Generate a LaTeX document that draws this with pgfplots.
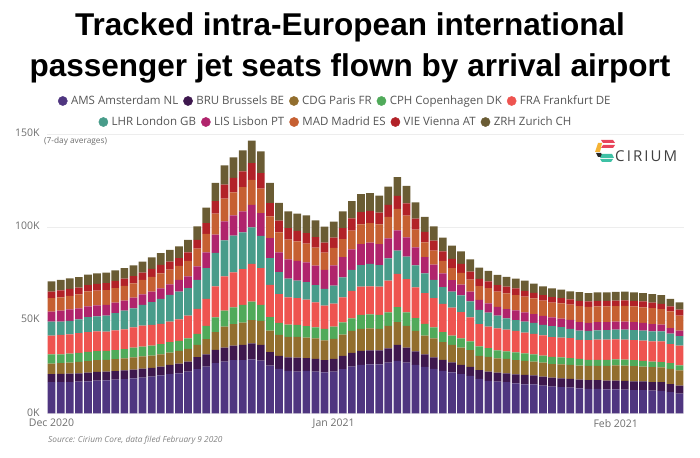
\documentclass[border=0pt]{standalone}
\usepackage{pgfplots}
\usepackage{pgfplotstable}
\pgfplotsset{compat=1.18}
\usepackage{fontspec}
\setmainfont{Open Sans}
\newfontfamily\titlefont{Liberation Sans}
\definecolor{cAMS}{RGB}{79,54,128}
\definecolor{cBRU}{RGB}{62,24,78}
\definecolor{cCDG}{RGB}{146,110,46}
\definecolor{cCPH}{RGB}{80,170,90}
\definecolor{cFRA}{RGB}{238,84,80}
\definecolor{cLHR}{RGB}{72,156,138}
\definecolor{cLIS}{RGB}{176,36,108}
\definecolor{cMAD}{RGB}{198,96,50}
\definecolor{cVIE}{RGB}{178,34,40}
\definecolor{cZRH}{RGB}{106,92,52}
\definecolor{tickgray}{RGB}{110,110,110}
\definecolor{leggray}{RGB}{85,85,85}
\definecolor{logored}{RGB}{232,68,90}
\definecolor{logoyel}{RGB}{245,179,53}
\definecolor{logoteal}{RGB}{62,193,165}
\pgfplotstableread{
x AMS BRU CDG CPH FRA LHR LIS MAD VIE ZRH
0 16.7 4.3 5.7 5.0 10.0 7.5 5.4 7.2 3.6 5.4
1 16.7 4.5 5.7 4.8 10.4 7.2 5.9 7.0 3.8 5.6
2 16.8 4.5 5.9 4.8 10.4 7.3 6.1 7.2 3.8 5.6
3 17.0 4.5 6.1 4.8 10.6 7.5 5.9 7.5 3.6 5.6
4 17.2 4.7 6.1 5.0 10.6 8.1 5.7 8.1 3.4 5.6
5 17.6 4.7 6.3 4.8 10.6 8.1 5.9 7.9 3.6 5.6
6 17.7 4.7 6.3 4.8 10.4 8.6 5.7 7.9 3.8 5.6
7 18.1 4.5 6.5 4.8 10.6 9.3 5.7 7.7 3.9 5.6
8 18.3 4.7 6.5 5.0 10.6 10.0 5.4 7.9 3.9 5.6
9 18.8 4.7 6.6 5.2 10.9 10.2 5.7 7.7 3.9 5.7
10 19.2 4.8 6.6 5.2 11.3 11.1 5.7 7.7 3.9 5.9
11 19.7 4.7 6.6 5.4 11.1 12.2 5.7 7.9 4.3 6.1
12 20.3 4.8 6.6 5.4 10.9 13.4 5.7 8.1 4.5 6.3
13 21.0 5.0 6.6 5.6 11.1 14.3 5.7 7.9 4.3 6.3
14 21.5 5.2 6.8 5.4 11.6 14.8 6.4 7.5 4.1 6.3
15 22.4 5.4 6.8 5.7 12.2 14.7 6.3 8.4 4.5 6.8
16 23.7 6.5 6.6 5.9 13.4 15.6 7.2 9.5 4.8 7.2
17 25.1 6.6 8.1 7.2 14.5 16.5 8.4 10.0 5.7 8.4
18 26.9 7.2 9.5 7.9 16.7 17.9 9.9 11.3 6.6 9.9
19 27.8 7.5 11.3 8.6 18.3 19.4 10.2 12.2 7.5 10.4
20 28.5 7.9 11.5 9.0 18.8 19.7 10.9 12.4 7.7 11.1
21 28.5 8.2 12.0 9.5 19.2 19.7 11.3 13.1 8.4 11.3
22 29.0 8.6 12.5 9.9 20.3 19.5 12.2 13.4 9.0 12.0
23 28.3 8.4 12.9 8.6 19.7 17.4 12.2 13.1 8.4 11.6
24 25.6 7.2 11.6 7.2 17.4 14.3 10.8 11.6 7.2 10.8
25 23.8 7.0 11.3 6.5 15.4 11.8 10.6 10.8 6.3 9.5
26 22.8 7.2 11.1 6.5 14.7 10.0 10.4 10.6 6.1 9.1
27 22.4 7.5 11.1 6.5 14.3 9.5 10.6 10.4 5.7 9.3
28 22.8 6.8 11.1 6.1 14.2 9.5 10.6 10.0 5.7 9.5
29 22.4 6.8 11.1 5.9 13.4 9.3 10.4 9.7 5.6 9.0
30 22.0 6.6 10.6 6.1 12.5 9.0 10.2 9.3 5.4 8.6
31 22.4 6.8 10.8 6.5 12.4 9.7 10.8 9.5 5.4 8.6
32 23.7 7.2 11.3 6.6 13.4 10.8 10.9 9.7 5.9 9.0
33 25.1 7.3 11.8 6.8 14.7 11.3 11.1 10.0 6.6 9.3
34 26.0 7.5 11.8 7.5 15.2 11.6 11.3 10.6 6.5 9.7
35 26.3 7.5 11.8 7.5 15.1 12.0 11.5 10.4 6.6 9.5
36 26.3 7.5 11.5 7.5 15.2 11.6 11.3 10.6 6.3 9.1
37 27.2 7.7 12.0 7.3 17.0 12.0 10.8 11.5 6.5 9.7
38 28.1 8.6 12.2 8.1 17.9 12.5 10.8 11.6 7.0 10.0
39 27.2 8.1 11.6 7.3 17.9 12.0 10.4 11.6 6.6 9.5
40 26.0 7.2 11.1 6.8 16.5 11.8 9.7 9.5 5.9 8.8
41 24.9 6.8 10.0 6.3 16.5 10.6 8.8 7.9 5.6 8.1
42 23.8 6.3 10.2 5.9 15.6 9.9 8.1 7.5 5.4 7.7
43 22.8 5.9 9.5 5.4 15.1 9.1 7.3 6.8 5.0 7.5
44 22.0 5.4 9.3 5.0 15.1 8.6 6.1 6.4 5.0 7.2
45 21.0 5.0 9.3 5.0 14.0 9.0 5.8 6.3 4.8 6.8
46 20.1 4.8 9.0 4.7 12.9 8.6 5.2 6.5 4.3 6.5
47 18.5 4.7 7.7 5.0 12.0 7.7 5.3 7.4 3.9 6.1
48 17.4 5.0 7.9 4.7 11.6 7.5 5.0 8.1 3.6 5.7
49 17.0 4.8 7.7 4.3 11.8 6.8 4.8 8.1 3.6 5.4
50 16.7 4.8 7.7 4.1 11.6 6.1 5.0 8.4 3.6 5.2
51 16.1 4.8 7.7 4.1 11.5 5.9 5.2 8.2 3.6 5.2
52 15.6 5.0 7.5 4.1 11.1 5.9 5.0 8.4 3.2 5.4
53 15.6 4.7 7.5 3.9 10.9 5.9 4.8 8.4 3.0 5.0
54 14.9 4.8 7.5 3.8 10.8 5.7 4.8 8.2 3.0 4.7
55 14.3 4.8 7.3 3.9 10.6 5.9 4.7 7.9 3.0 4.7
56 14.0 4.8 7.5 3.8 10.6 5.6 4.5 8.2 2.9 4.5
57 13.8 4.7 7.5 3.6 10.8 5.0 4.8 8.1 2.9 4.3
58 13.4 4.7 7.5 3.6 10.2 5.0 4.5 8.6 2.9 4.7
59 13.1 4.7 7.7 3.2 10.6 5.0 4.3 8.6 2.9 4.5
60 13.1 4.7 7.7 3.2 10.8 5.0 4.5 8.4 3.0 4.5
61 12.9 4.7 7.9 3.2 10.8 5.2 4.3 8.4 3.0 4.5
62 12.9 4.7 8.1 3.2 10.8 5.2 4.3 8.4 2.9 4.7
63 12.7 4.7 8.2 3.2 10.8 5.4 4.3 8.4 3.0 4.7
64 12.5 4.7 8.1 3.2 10.8 5.4 4.3 8.4 3.0 4.5
65 12.4 4.7 7.9 3.2 10.8 5.4 4.1 8.4 3.2 4.5
66 12.2 4.5 8.1 3.0 10.8 5.4 3.9 8.6 3.0 4.5
67 12.0 4.7 7.9 2.9 11.1 5.4 3.6 8.4 2.7 4.7
68 11.4 4.3 8.1 3.2 10.2 5.6 2.9 9.0 2.7 4.1
69 10.6 4.3 8.2 2.7 10.6 5.0 3.0 8.1 3.2 3.9
}\data
\begin{document}
\begin{tikzpicture}[x=1pt,y=1pt]
\path[use as bounding box] (0,0) rectangle (700,457);
% title
\node[anchor=base, inner sep=0] at (350,421) {\titlefont\bfseries\fontsize{31.5}{36}\selectfont Tracked intra-European international};
\node[anchor=base, inner sep=0] at (350,380) {\titlefont\bfseries\fontsize{31.5}{36}\selectfont passenger jet seats flown by arrival airport};
\begin{axis}[
  at={(47pt,43.7pt)}, anchor=south west, scale only axis,
  width=637pt, height=279.3pt,
  xmin=-0.5, xmax=69.5, ymin=0, ymax=150,
  ybar stacked, bar width=7.7pt,
  axis line style={draw=none}, major tick length=0pt,
  ytick={0,50,100,150}, yticklabels={0K,50K,100K,150K},
  xtick={0,31,62}, xticklabels={Dec 2020,Jan 2021,Feb 2021},
  ymajorgrids, grid style={gray!14, line width=0.6pt},
  tick label style={font=\fontsize{10.5}{12}\selectfont, text=tickgray},
  yticklabel style={xshift=-4pt, yshift=1pt},
  xticklabel style={yshift=-2.5pt},
  clip=false,
]
\addplot[fill=cAMS, draw=none] table[x=x, y=AMS] {\data};
\addplot[fill=cBRU, draw=none] table[x=x, y=BRU] {\data};
\addplot[fill=cCDG, draw=none] table[x=x, y=CDG] {\data};
\addplot[fill=cCPH, draw=none] table[x=x, y=CPH] {\data};
\addplot[fill=cFRA, draw=none] table[x=x, y=FRA] {\data};
\addplot[fill=cLHR, draw=none] table[x=x, y=LHR] {\data};
\addplot[fill=cLIS, draw=none] table[x=x, y=LIS] {\data};
\addplot[fill=cMAD, draw=none] table[x=x, y=MAD] {\data};
\addplot[fill=cVIE, draw=none] table[x=x, y=VIE] {\data};
\addplot[fill=cZRH, draw=none] table[x=x, y=ZRH] {\data};
\end{axis}
% legend row 1
\begin{axis}[at={(0pt,0pt)}, anchor=south west, scale only axis, width=700pt, height=457pt,
  hide axis, xmin=0, xmax=1, ymin=0, ymax=1,
  legend image code/.code={\fill[#1] (0pt,0pt) circle (4.6pt);},
  legend style={at={(0.479,0.779)}, anchor=center, draw=none, fill=none,
    font=\fontsize{11.5}{13}\selectfont, text=leggray, inner sep=0pt,
    /tikz/every even column/.append style={column sep=3pt},
    /tikz/every odd column/.append style={column sep=1.5pt}},
  legend columns=5]
\addlegendimage{cAMS}\addlegendentry{AMS Amsterdam NL}
\addlegendimage{cBRU}\addlegendentry{BRU Brussels BE}
\addlegendimage{cCDG}\addlegendentry{CDG Paris FR}
\addlegendimage{cCPH}\addlegendentry{CPH Copenhagen DK}
\addlegendimage{cFRA}\addlegendentry{FRA Frankfurt DE}
\end{axis}
% legend row 2
\begin{axis}[at={(0pt,0pt)}, anchor=south west, scale only axis, width=700pt, height=457pt,
  hide axis, xmin=0, xmax=1, ymin=0, ymax=1,
  legend image code/.code={\fill[#1] (0pt,0pt) circle (4.6pt);},
  legend style={at={(0.480,0.733)}, anchor=center, draw=none, fill=none,
    font=\fontsize{11.5}{13}\selectfont, text=leggray, inner sep=0pt,
    /tikz/every even column/.append style={column sep=3pt},
    /tikz/every odd column/.append style={column sep=1.5pt}},
  legend columns=5]
\addlegendimage{cLHR}\addlegendentry{LHR London GB}
\addlegendimage{cLIS}\addlegendentry{LIS Lisbon PT}
\addlegendimage{cMAD}\addlegendentry{MAD Madrid ES}
\addlegendimage{cVIE}\addlegendentry{VIE Vienna AT}
\addlegendimage{cZRH}\addlegendentry{ZRH Zurich CH}
\end{axis}
% annotations
\node[anchor=west, inner sep=0, text=tickgray] at (44,316) {\fontsize{8.3}{10}\selectfont (7-day averages)};
\node[anchor=west, inner sep=0, text=gray] at (48,17) {\fontsize{8.3}{10}\selectfont\itshape Source: Cirium Core, data filed February 9 2020};
% logo
\fill[logored] (601,317) -- (613,317) -- (615,314) -- (603,314) -- cycle;
\fill[logored] (603,312) -- (615,312) -- (613,309) -- (601,309) -- cycle;
\fill[logoyel] (598,314) -- (602,314) -- (600,305) -- (595,305) -- cycle;
\fill[black!85] (596,304) -- (601,304) -- (603,300) -- (598,300) -- cycle;
\fill[logoteal] (602,303) -- (612,303) -- (614,299) -- (600,299) -- cycle;
\fill[logoteal] (600,298) -- (613,298) -- (611,295) -- (602,295) -- cycle;
\node[anchor=west, inner sep=0, text=black!75] at (615,301) {\fontsize{15}{17}\selectfont\addfontfeatures{LetterSpace=14}CIRIUM};
\end{tikzpicture}
\end{document}
